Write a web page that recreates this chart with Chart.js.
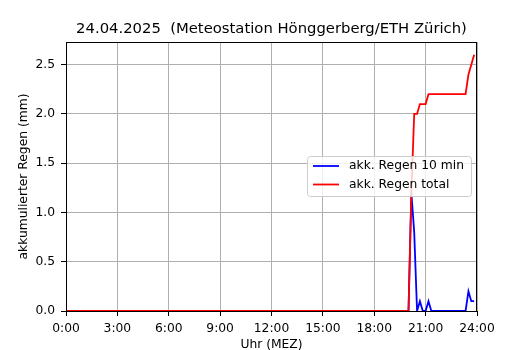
<!DOCTYPE html>
<html>
<head>
<meta charset="utf-8">
<script src="https://cdn.jsdelivr.net/npm/chart.js@4.4.0/dist/chart.umd.min.js"></script>
<style>
  html, body { margin: 0; padding: 0; background: #fff; }
  #wrap { width: 530px; height: 350px; }
</style>
</head>
<body>
<div id="wrap"><canvas id="regen"></canvas></div>
<script>
// Zeitachse: 10-Minuten-Schritte ab 0:00
var stepMinutes = 10;
var tickLabels = ["0:00", "3:00", "6:00", "9:00", "12:00", "15:00", "18:00", "21:00", "24:00"];
var yTicks = [0.0, 0.5, 1.0, 1.5, 2.0, 2.5];
var titel = "24.04.2025  (Meteostation Hönggerberg/ETH Zürich)";

// akk. Regen 10 min (mm), eine Zeile pro Stunde (:00 :10 :20 :30 :40 :50)
var regen10 = [
    0, 0, 0, 0, 0, 0,        // 0
    0, 0, 0, 0, 0, 0,        // 1
    0, 0, 0, 0, 0, 0,        // 2
    0, 0, 0, 0, 0, 0,        // 3
    0, 0, 0, 0, 0, 0,        // 4
    0, 0, 0, 0, 0, 0,        // 5
    0, 0, 0, 0, 0, 0,        // 6
    0, 0, 0, 0, 0, 0,        // 7
    0, 0, 0, 0, 0, 0,        // 8
    0, 0, 0, 0, 0, 0,        // 9
    0, 0, 0, 0, 0, 0,        // 10
    0, 0, 0, 0, 0, 0,        // 11
    0, 0, 0, 0, 0, 0,        // 12
    0, 0, 0, 0, 0, 0,        // 13
    0, 0, 0, 0, 0, 0,        // 14
    0, 0, 0, 0, 0, 0,        // 15
    0, 0, 0, 0, 0, 0,        // 16
    0, 0, 0, 0, 0, 0,        // 17
    0, 0, 0, 0, 0, 0,        // 18
    0, 0, 0, 0, 0, 0,        // 19
    0, 1.2, 0.8, 0, 0.1, 0,  // 20
    0, 0.1, 0, 0, 0, 0,      // 21
    0, 0, 0, 0, 0, 0,        // 22
    0, 0, 0, 0.2, 0.1, 0.1   // 23
];

// akk. Regen total (mm)
var regenTotal = [
    0, 0, 0, 0, 0, 0,        // 0
    0, 0, 0, 0, 0, 0,        // 1
    0, 0, 0, 0, 0, 0,        // 2
    0, 0, 0, 0, 0, 0,        // 3
    0, 0, 0, 0, 0, 0,        // 4
    0, 0, 0, 0, 0, 0,        // 5
    0, 0, 0, 0, 0, 0,        // 6
    0, 0, 0, 0, 0, 0,        // 7
    0, 0, 0, 0, 0, 0,        // 8
    0, 0, 0, 0, 0, 0,        // 9
    0, 0, 0, 0, 0, 0,        // 10
    0, 0, 0, 0, 0, 0,        // 11
    0, 0, 0, 0, 0, 0,        // 12
    0, 0, 0, 0, 0, 0,        // 13
    0, 0, 0, 0, 0, 0,        // 14
    0, 0, 0, 0, 0, 0,        // 15
    0, 0, 0, 0, 0, 0,        // 16
    0, 0, 0, 0, 0, 0,        // 17
    0, 0, 0, 0, 0, 0,        // 18
    0, 0, 0, 0, 0, 0,        // 19
    0, 1.2, 2.0, 2.0, 2.1, 2.1,        // 20
    2.1, 2.2, 2.2, 2.2, 2.2, 2.2,      // 21
    2.2, 2.2, 2.2, 2.2, 2.2, 2.2,      // 22
    2.2, 2.2, 2.2, 2.4, 2.5, 2.6       // 23
];

var seriesNames = ["akk. Regen 10 min", "akk. Regen total"];
var seriesColors = ["#0000ff", "#ff0000"];

function toPoints(values){
    var pts = [];
    for (var i = 0; i < values.length; i++) {
        pts.push({x: i * stepMinutes, y: values[i]});
    }
    return pts;
}

var fontFam = "'DejaVu Sans', 'Liberation Sans', sans-serif";

// Titel, Rahmen oben/rechts + Legende wie matplotlib
var framePlugin = {
    id: "frame",
    afterDraw: function(chart){
        var ctx = chart.ctx, a = chart.chartArea;
        ctx.save();
        ctx.strokeStyle = "#000";
        ctx.lineWidth = 1;
        ctx.strokeRect(Math.round(a.left) + 0.5, Math.round(a.top) + 0.5,
            Math.round(a.right - a.left) - 1, Math.round(a.bottom - a.top));

        // Titel ueber der Achse zentriert
        ctx.fillStyle = "#000";
        ctx.font = "14.8px " + fontFam;
        ctx.textAlign = "center";
        ctx.textBaseline = "middle";
        ctx.fillText(titel, (a.left + a.right) / 2, 29);

        // Legende
        var lx = 307.5, ly = 156.5, lw = 164, lh = 40, r = 3;
        ctx.beginPath();
        ctx.moveTo(lx + r, ly);
        ctx.arcTo(lx + lw, ly, lx + lw, ly + lh, r);
        ctx.arcTo(lx + lw, ly + lh, lx, ly + lh, r);
        ctx.arcTo(lx, ly + lh, lx, ly, r);
        ctx.arcTo(lx, ly, lx + lw, ly, r);
        ctx.closePath();
        ctx.fillStyle = "rgba(255,255,255,0.8)";
        ctx.fill();
        ctx.strokeStyle = "#cccccc";
        ctx.stroke();

        ctx.font = "12.3px " + fontFam;
        ctx.textAlign = "left";
        for (var i = 0; i < seriesNames.length; i++) {
            var yy = 166 + i * 18.5;
            ctx.strokeStyle = seriesColors[i];
            ctx.lineWidth = 1.8;
            ctx.beginPath();
            ctx.moveTo(313, yy);
            ctx.lineTo(339, yy);
            ctx.stroke();
            ctx.fillStyle = "#000";
            ctx.fillText(seriesNames[i], 349, yy);
        }
        ctx.restore();
    }
};

var ctx1 = document.getElementById("regen").getContext("2d");
var myChart = new Chart(ctx1, {
    type: "line",
    data: {
        datasets: [{
                label: seriesNames[0],
                data: toPoints(regen10),
                borderColor: seriesColors[0],
                borderWidth: 1.8,
                pointRadius: 0,
                tension: 0,
                clip: 0,
                order: 1
            },
            {
                label: seriesNames[1],
                data: toPoints(regenTotal),
                borderColor: seriesColors[1],
                borderWidth: 1.8,
                pointRadius: 0,
                tension: 0,
                clip: 0,
                order: 0
            }
        ]
    },
    options: {
        responsive: true,
        maintainAspectRatio: false,
        animation: false,
        layout: {
            padding: {left: 0, right: 53, top: 42, bottom: 0}
        },
        plugins: {
            legend: { display: false },
            tooltip: { enabled: false },
            title: { display: false }
        },
        scales: {
            x: {
                type: "linear",
                min: 0,
                max: 1440,
                afterFit: function(scale){ scale.height = 39; },
                afterBuildTicks: function(scale){
                    scale.ticks = tickLabels.map(function(_l, i){ return {value: i * 180}; });
                },
                ticks: {
                    color: "#000",
                    font: { family: fontFam, size: 12.3 },
                    padding: 5,
                    maxRotation: 0,
                    autoSkip: false,
                    callback: function(value){
                        return tickLabels[Math.round(value / 180)];
                    }
                },
                grid: {
                    color: "#b0b0b0",
                    lineWidth: 1,
                    tickColor: "#000",
                    tickLength: 5
                },
                border: { display: true, color: "#000", width: 1 },
                title: {
                    display: true,
                    text: "Uhr (MEZ)",
                    color: "#000",
                    font: { family: fontFam, size: 12.3 },
                    padding: { top: 0, bottom: -2.5 }
                }
            },
            y: {
                type: "linear",
                min: 0,
                max: 2.73,
                afterFit: function(scale){ scale.width = 66; },
                afterBuildTicks: function(scale){
                    scale.ticks = yTicks.map(function(v){ return {value: v}; });
                },
                ticks: {
                    color: "#000",
                    font: { family: fontFam, size: 12.3 },
                    padding: 6,
                    callback: function(value){ return value.toFixed(1); }
                },
                grid: {
                    color: "#b0b0b0",
                    lineWidth: 1,
                    tickColor: "#000",
                    tickLength: 5
                },
                border: { display: true, color: "#000", width: 1 },
                title: {
                    display: true,
                    text: "akkumulierter Regen (mm)",
                    color: "#000",
                    font: { family: fontFam, size: 12.3 },
                    padding: { top: 16, bottom: 0 }
                }
            }
        }
    },
    plugins: [framePlugin]
});
</script>
</body>
</html>
